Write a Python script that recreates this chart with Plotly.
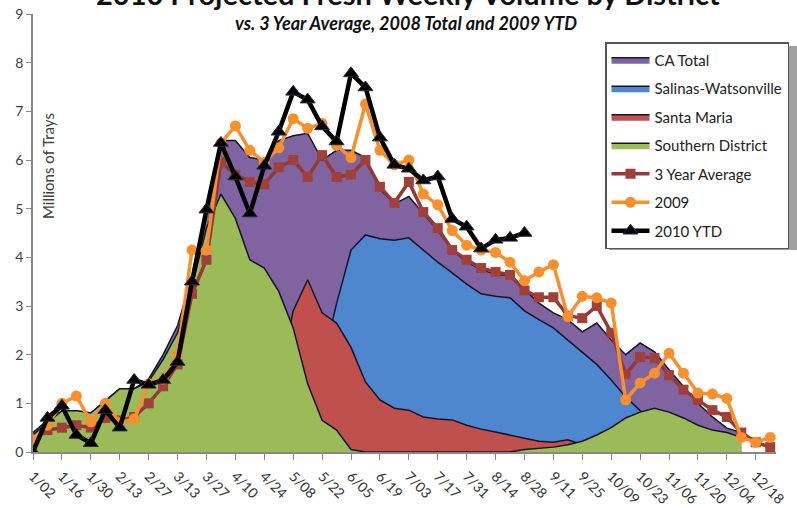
import plotly.graph_objects as go

# Weekly shipping weeks (week ending dates)
weeks = ["1/02", "1/09", "1/16", "1/23", "1/30", "2/06", "2/13", "2/20", "2/27", "3/06",
         "3/13", "3/20", "3/27", "4/03", "4/10", "4/17", "4/24", "5/01", "5/08", "5/15",
         "5/22", "5/29", "6/05", "6/12", "6/19", "6/26", "7/03", "7/10", "7/17", "7/24",
         "7/31", "8/07", "8/14", "8/21", "8/28", "9/04", "9/11", "9/18", "9/25", "10/02",
         "10/09", "10/16", "10/23", "10/30", "11/06", "11/13", "11/20", "11/27", "12/04", "12/11",
         "12/18", "12/25"]

# Projected weekly volume by district, millions of trays
ca_total = [0.40, 0.65, 0.85, 0.85, 0.80, 1.05, 1.30, 1.30, 1.50, 2.00,
            2.60, 3.60, 4.90, 6.40, 6.40, 6.05, 6.00, 6.40, 6.50, 6.55,
            6.00, 6.20, 6.20, 6.05, 5.40, 5.10, 5.25, 4.90, 4.55, 4.15,
            3.90, 3.75, 3.65, 3.62, 3.33, 3.06, 2.86, 2.72, 2.47, 2.65,
            2.30, 2.00, 2.24, 2.06, 1.69, 1.34, 1.00, 0.72, 0.49, 0.40,
            None, None]
salinas = [0, 0, 0, 0, 0, 0, 0, 0, 0, 0,
           0, 0, 0, 0, 0, 0, 0, 0, 0.20, 0.80,
           1.80, 3.05, 4.15, 4.46, 4.38, 4.35, 4.40, 4.15, 3.90, 3.68,
           3.45, 3.25, 3.20, 3.17, 2.90, 2.72, 2.55, 2.30, 2.05, 1.80,
           1.48, 1.13, 0.85, 0.60, 0.40, 0.25, 0.10, 0, 0, 0,
           None, None]
santa_maria = [0, 0, 0, 0, 0, 0, 0, 0, 0, 0,
               0, 0, 0, 0, 0, 0, 0.50, 1.50, 2.90, 3.54,
               2.86, 2.65, 2.15, 1.44, 1.07, 0.90, 0.86, 0.72, 0.68, 0.66,
               0.55, 0.47, 0.41, 0.35, 0.29, 0.22, 0.20, 0.25, 0.15, 0.05,
               0, 0, 0, 0, 0, 0, 0, 0, 0, 0,
               None, None]
southern = [0.35, 0.60, 0.85, 0.85, 0.80, 1.05, 1.30, 1.30, 1.45, 1.90,
            2.45, 3.40, 4.60, 5.30, 4.80, 3.95, 3.78, 3.30, 2.55, 1.40,
            0.65, 0.45, 0.05, 0, 0, 0, 0, 0, 0, 0,
            0, 0, 0, 0, 0.05, 0.08, 0.10, 0.15, 0.22, 0.35,
            0.50, 0.70, 0.82, 0.90, 0.82, 0.70, 0.55, 0.45, 0.40, 0.30,
            None, None]

# Comparison lines
avg_3yr = [0.25, 0.45, 0.50, 0.55, 0.50, 0.70, 0.65, 0.72, 1.00, 1.35,
           1.80, 3.25, 3.95, 5.95, 5.70, 5.55, 5.50, 5.85, 6.00, 5.65,
           6.10, 5.65, 5.70, 6.00, 5.45, 5.12, 5.55, 4.93, 4.60, 4.15,
           3.95, 3.78, 3.70, 3.64, 3.32, 3.18, 3.18, 2.80, 2.75, 3.00,
           2.45, 1.60, 1.95, 1.93, 1.58, 1.28, 1.07, 0.86, 0.72, 0.40,
           0.20, 0.10]
y2009 = [0.25, 0.55, 1.00, 1.15, 0.62, 1.00, 0.60, 0.68, 1.40, 1.50,
         2.00, 4.15, 4.15, 6.35, 6.70, 6.20, 5.95, 6.25, 6.85, 6.65,
         6.75, 6.30, 6.05, 7.15, 6.20, 5.90, 6.00, 5.30, 5.08, 4.55,
         4.25, 4.15, 4.10, 3.90, 3.52, 3.70, 3.85, 2.78, 3.20, 3.17,
         3.06, 1.07, 1.42, 1.62, 2.03, 1.62, 1.21, 1.19, 1.10, 0.30,
         0.20, 0.30]
y2010_ytd = [0.00, 0.70, 0.95, 0.35, 0.18, 0.86, 0.50, 1.48, 1.38, 1.48,
             1.85, 3.50, 4.98, 6.35, 5.66, 4.90, 5.88, 6.58, 7.40, 7.24,
             6.69, 6.38, 7.78, 7.49, 6.46, 5.90, 5.82, 5.58, 5.66, 4.79,
             4.63, 4.18, 4.36, 4.40, 4.50]

tick_labels = weeks[::2]

FONT = "Lato"
OUTLINE = "#141428"

# plot area in pixels: x 33..776, y 14..452
def px_x(p):
    return (p - 33) / 743.0

def px_y(p):
    return (452 - p) / 438.0

fig = go.Figure()

areas = [
    ("CA Total", ca_total, "#8064A2"),
    ("Salinas-Watsonville", salinas, "#4F86D0"),
    ("Santa Maria", santa_maria, "#C0504D"),
    ("Southern District", southern, "#9BBB59"),
]
for name, vals, color in areas:
    fig.add_trace(go.Scatter(
        x=weeks, y=vals, name=name, mode="lines", fill="tozeroy",
        fillcolor=color, line=dict(color=OUTLINE, width=1.5),
        legendgroup=name,
    ))

fig.add_trace(go.Scatter(
    x=weeks, y=avg_3yr, name="3 Year Average", mode="lines+markers",
    line=dict(color="#953735", width=3.5),
    marker=dict(symbol="square", size=10, color="#A0403A"),
    legendgroup="avg",
))
fig.add_trace(go.Scatter(
    x=weeks, y=y2009, name="2009", mode="lines+markers",
    line=dict(color="#F7902D", width=3.5),
    marker=dict(symbol="circle", size=11, color="#F7902D"),
    legendgroup="2009",
))
fig.add_trace(go.Scatter(
    x=weeks[:len(y2010_ytd)], y=y2010_ytd, name="2010 YTD", mode="lines+markers",
    line=dict(color="#000000", width=4.5),
    marker=dict(symbol="triangle-up", size=13, color="#000000",
                line=dict(color="#2a2a40", width=1)),
    legendgroup="2010",
))

fig.update_layout(
    width=797, height=508, autosize=False,
    margin=dict(l=33, r=21, t=14, b=56, autoexpand=False),
    paper_bgcolor="white", plot_bgcolor="white",
    font=dict(family=FONT, size=14, color="#404040"),
    showlegend=True,
    legend=dict(
        x=px_x(605), y=px_y(42), xanchor="left", yanchor="top",
        bgcolor="white", bordercolor="#555555", borderwidth=1.5,
        font=dict(family=FONT, size=15, color="#222222"),
        tracegroupgap=6, traceorder="grouped", itemwidth=38,
    ),
    xaxis=dict(
        type="category", range=[0, 51.4], automargin=False,
        tickmode="array", tickvals=tick_labels, ticktext=tick_labels,
        tickangle=45, ticks="outside", ticklen=6, tickcolor="#888888",
        ticklabelstandoff=3,
        showline=True, linecolor="#888888", linewidth=1.5,
        showgrid=False, zeroline=False,
        tickfont=dict(family=FONT, size=14, color="#333333"),
    ),
    yaxis=dict(
        range=[0, 9], dtick=1, ticks="outside", ticklen=5, tickcolor="#888888",
        automargin=False,
        showline=True, linecolor="#888888", linewidth=1.5,
        showgrid=False, zeroline=False,
        tickfont=dict(family=FONT, size=14, color="#404040"),
    ),
    shapes=[
        # soft drop shadow behind the legend box
        dict(type="rect", xref="paper", yref="paper",
             x0=px_x(609), x1=px_x(797), y0=px_y(250), y1=px_y(46),
             fillcolor="#a0a0a0", line=dict(width=0), layer="above"),
    ],
    annotations=[
        dict(text="<b>2010 Projected Fresh Weekly Volume by District</b>",
             xref="paper", yref="paper", x=px_x(408), y=px_y(-6),
             xanchor="center", yanchor="middle", showarrow=False,
             font=dict(family=FONT, size=29, color="#111111")),
        dict(text="<b><i>vs. 3 Year Average, 2008 Total and 2009 YTD</i></b>",
             xref="paper", yref="paper", x=px_x(406), y=px_y(23),
             xanchor="center", yanchor="middle", showarrow=False,
             font=dict(family=FONT, size=18, color="#111111")),
        dict(text="Millions of Trays", textangle=-90,
             xref="paper", yref="paper", x=px_x(48), y=px_y(166),
             xanchor="center", yanchor="middle", showarrow=False,
             font=dict(family=FONT, size=15, color="#404040")),
    ],
)

fig.write_html("out.html")
